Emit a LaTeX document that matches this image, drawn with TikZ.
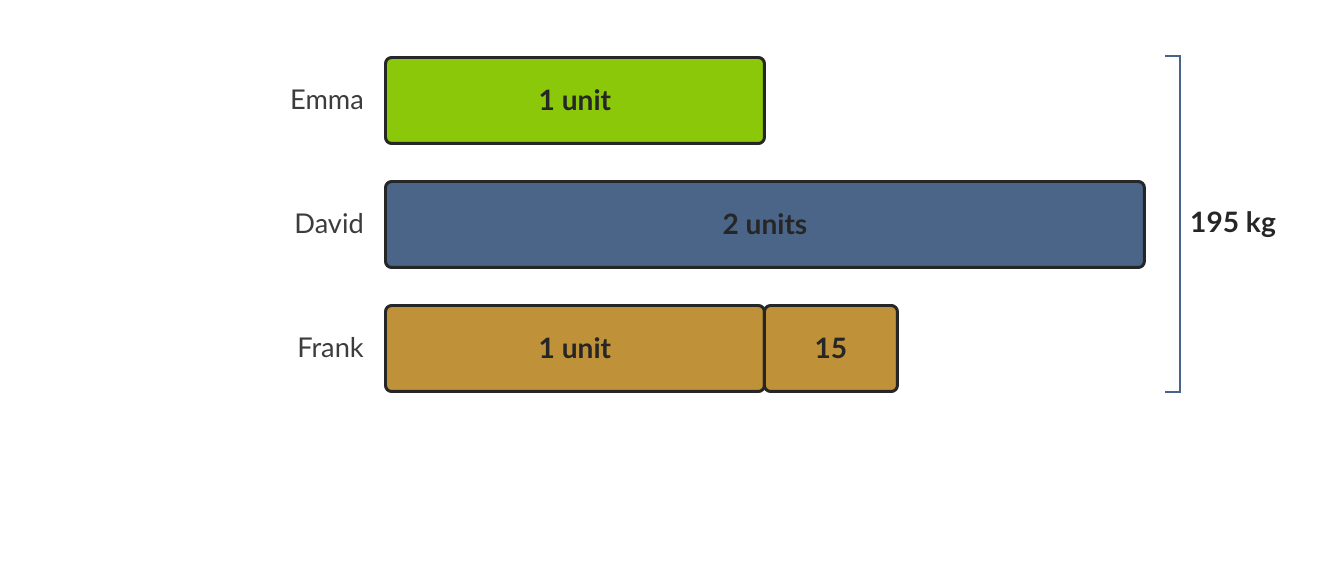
\documentclass[tikz,border=0pt]{standalone}
\usepackage{fontspec}
\setmainfont{Lato}
\usepackage{xcolor}
\usepackage{tikz}
\usetikzlibrary{positioning}

\definecolor{barGreen}{HTML}{8BC80A}
\definecolor{barBlue}{HTML}{4A6587}
\definecolor{barGold}{HTML}{BF9239}
\definecolor{barEdge}{HTML}{262626}
\definecolor{braceBlue}{HTML}{4A6489}

\tikzset{
  bar/.style={draw=barEdge, line width=1.7pt, rounded corners=3.5pt,
    minimum height=1.72cm, anchor=north west, inner sep=0pt, outer sep=0pt,
    font=\fontsize{16}{18}\selectfont\bfseries, text=barEdge},
  who/.style={anchor=east, font=\fontsize{15.5}{18}\selectfont, text=barEdge!90}
}

\begin{document}
\begin{tikzpicture}[x=0.02cm,y=-0.02cm]
        \useasboundingbox (0,0) rectangle (1328,568);

        % Emma
        \node[bar, fill=barGreen, minimum width=7.58cm] (emma) at (385.5,57.5) {1 unit};
        \node[who] (emmaLbl) at (370,100) {Emma};

        % David
        \node[bar, fill=barBlue, minimum width=15.18cm] (david) at (385.5,181.5) {2 units};
        \node[who] (davidLbl) at (370,224) {David};

        % Frank
        \node[bar, fill=barGold, minimum width=7.58cm] (frank) at (385.5,305.5) {1 unit};
        \node[bar, fill=barGold, minimum width=2.66cm, right=0pt of frank.north east, anchor=north west] (extra) {15};
        \node[who] (frankLbl) at (370,348) {Frank};

        % Total bracket
        \coordinate (topTick) at (1165,56);
        \coordinate (botTick) at (1165,392);
        \draw[braceBlue, line width=1.5pt] (topTick) -- ++(15,0) |- (botTick);
        \node[anchor=west, font=\fontsize{16}{18}\selectfont\bfseries, text=barEdge] (total) at (1184,225) {195 kg};
    \end{tikzpicture}
\end{document}
